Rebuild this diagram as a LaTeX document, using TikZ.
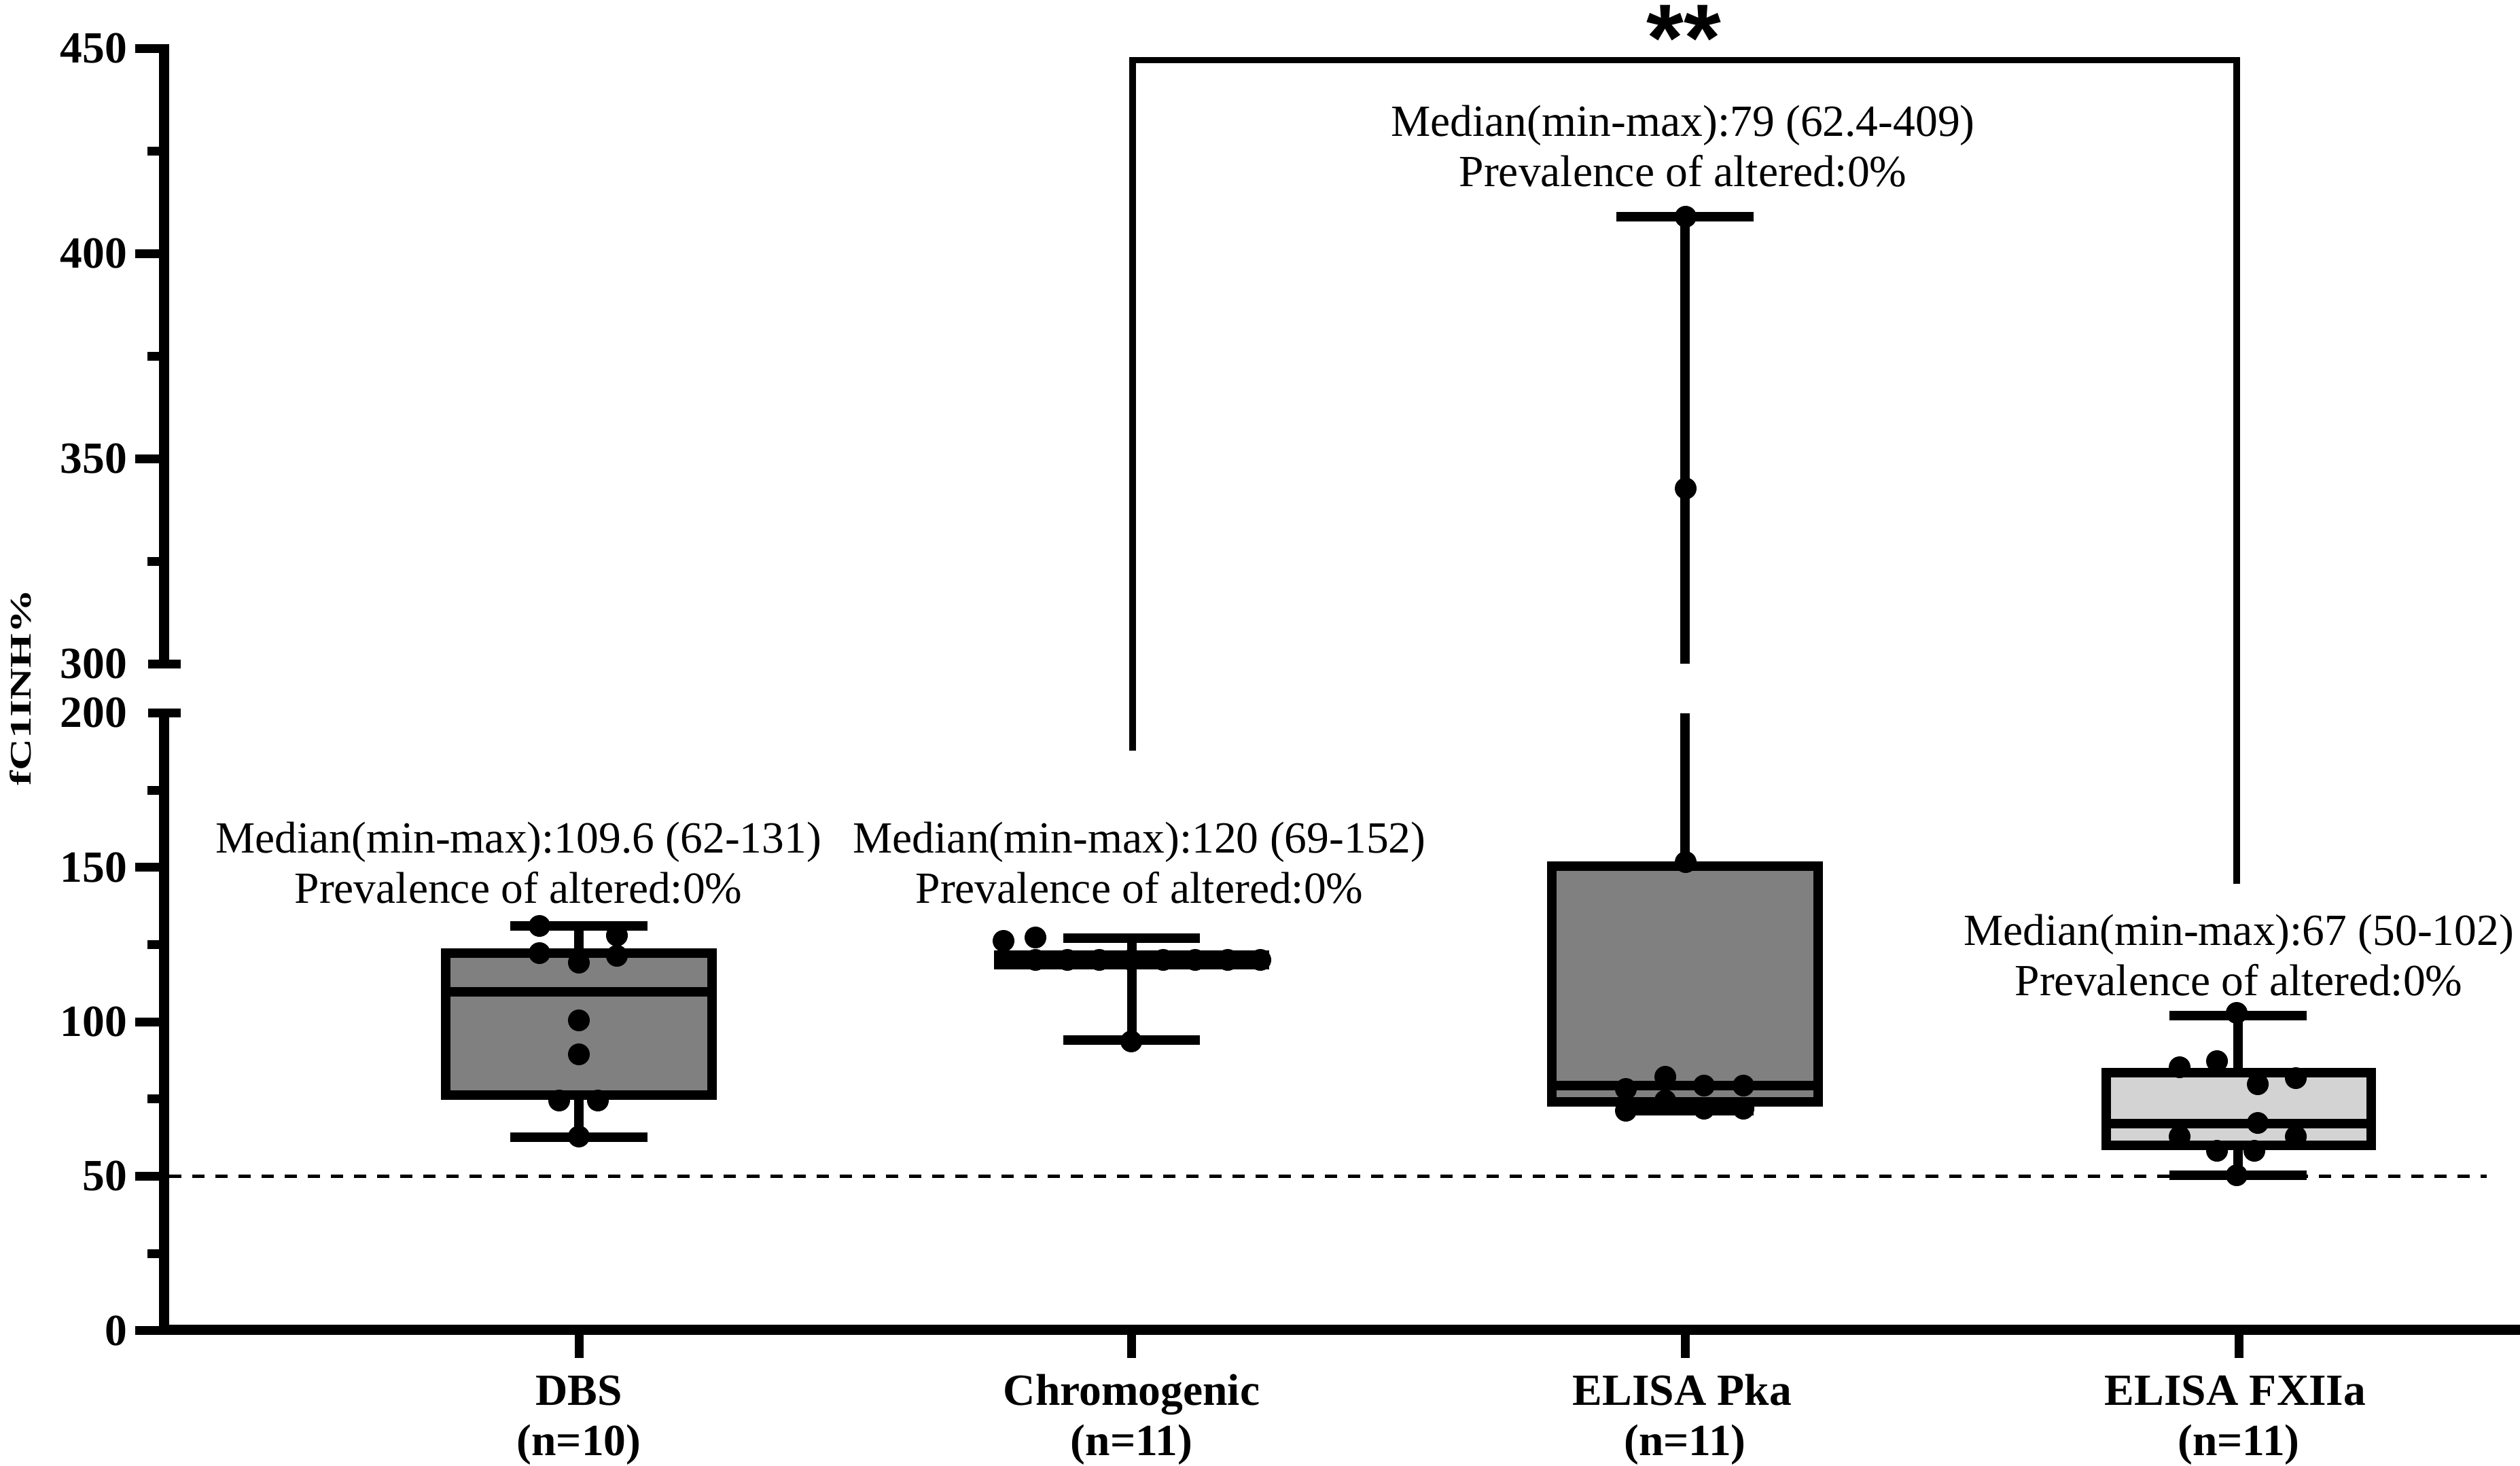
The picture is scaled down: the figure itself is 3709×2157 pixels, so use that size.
\documentclass[tikz,border=0pt]{standalone}
\usepackage{fontspec}
\setmainfont{Liberation Serif}
\newfontfamily\starfont{Liberation Sans}
\definecolor{boxgray}{RGB}{128,128,128}
\definecolor{boxlight}{RGB}{211,211,211}
\begin{document}
\begin{tikzpicture}[x=0.01cm,y=-0.01cm,
  every node/.style={inner sep=0pt, outer sep=0pt},
  lab/.style={font=\fontsize{18.64pt}{22pt}\selectfont},
  blab/.style={font=\fontsize{18.64pt}{22pt}\selectfont\bfseries},
  boxline/.style={line width=0.14cm, line join=miter},
  axisline/.style={line width=0.15cm},
  tickline/.style={line width=0.13cm},
  bracketline/.style={line width=0.095cm, line join=miter},
  refline/.style={line width=0.05cm, dash pattern=on 0.18cm off 0.16cm},
  dotfill/.style={fill=black}
]
\useasboundingbox (0,0) rectangle (3709,2157);

% ---------- y axis ----------
\draw[axisline] (241.5,64.5) -- (241.5,977);
\draw[tickline] (218,977) -- (266,977);
\draw[axisline] (241.5,1049.5) -- (241.5,1965);
\draw[tickline] (218,1049.5) -- (266,1049.5);
\foreach \yy in {71,373,675,1276.75,1504,1731.25,1958.5}
  \draw[tickline] (199,\yy) -- (241.5,\yy);
\foreach \yy in {222,524,826,1163,1390.4,1617.6,1845}
  \draw[tickline] (217,\yy) -- (241.5,\yy);

\node[blab, anchor=east] (t450) at (187,71) {450};
\node[blab, anchor=east] (t400) at (187,373) {400};
\node[blab, anchor=east] (t350) at (187,675) {350};
\node[blab, anchor=east] (t300) at (187,977) {300};
\node[blab, anchor=east] (t200) at (187,1049.5) {200};
\node[blab, anchor=east] (t150) at (187,1276.75) {150};
\node[blab, anchor=east] (t100) at (187,1504) {100};
\node[blab, anchor=east] (t50) at (187,1731.25) {50};
\node[blab, anchor=east] (t0) at (187,1958.5) {0};

\node[rotate=90, font=\fontsize{12.5pt}{14pt}\selectfont\bfseries] (ylab) at (30,1012) {\scalebox{1.48}[1]{fC1INH\%}};

% ---------- x axis ----------
\draw[axisline] (234,1957) -- (3709,1957);
\foreach \xx in {852,1665.5,2480,3295}
  \draw[tickline] (\xx,1957) -- (\xx,1999);

\node[blab, anchor=base] (c1a) at (852,2068) {DBS};
\node[blab, anchor=base] (c1b) at (852,2142) {(n=10)};
\node[blab, anchor=base] (c2a) at (1665.5,2068) {Chromogenic};
\node[blab, anchor=base] (c2b) at (1665.5,2142) {(n=11)};
\node[blab, anchor=base] (c3a) at (2476,2068) {ELISA Pka};
\node[blab, anchor=base] (c3b) at (2480,2142) {(n=11)};
\node[blab, anchor=base] (c4a) at (3290,2068) {ELISA FXIIa};
\node[blab, anchor=base] (c4b) at (3295,2142) {(n=11)};

% ---------- reference line ----------
\draw[refline] (249,1731.25) -- (3660,1731.25);

% ---------- DBS ----------
\draw[boxline] (852,1363) -- (852,1403);
\draw[boxline] (852,1612) -- (852,1674);
\draw[boxline] (751,1363) -- (953,1363);
\draw[boxline] (751,1674) -- (953,1674);
\draw[boxline, fill=boxgray] (656,1403) rectangle (1048,1612);
\draw[boxline] (656,1460) -- (1048,1460);
\foreach \px/\py in {794/1363,908/1377,794/1403,908/1407,852/1417,852/1502,852/1552,823/1620,880/1620,852/1673}
  \fill[dotfill] (\px,\py) circle[radius=0.16cm];

% ---------- Chromogenic ----------
\draw[boxline] (1665.5,1381) -- (1665.5,1406);
\draw[boxline] (1665.5,1420) -- (1665.5,1530.5);
\draw[boxline] (1565,1381) -- (1766,1381);
\draw[boxline] (1565,1530.5) -- (1766,1530.5);
\draw[boxline, fill=boxgray] (1470,1406) rectangle (1861,1420);
\draw[boxline] (1470,1413) -- (1861,1413);
\foreach \px/\py in {1477/1385,1524/1380,1524/1413,1571/1413,1618/1413,1665/1413,1712/1413,1759/1413,1807/1413,1855/1413,1665/1533}
  \fill[dotfill] (\px,\py) circle[radius=0.16cm];

% ---------- ELISA Pka ----------
\draw[boxline] (2480,319) -- (2480,977);
\draw[boxline] (2480,1049.5) -- (2480,1274.6);
\draw[boxline] (2480,1622) -- (2480,1635);
\draw[boxline] (2379,319) -- (2581,319);
\draw[boxline] (2379,1635) -- (2581,1635);
\draw[boxline, fill=boxgray] (2284,1274.6) rectangle (2676,1622);
\draw[boxline] (2284,1598) -- (2676,1598);
\foreach \px/\py in {2481/319,2481/719,2481/1269,2393/1603,2451/1585,2508/1598,2566/1598,2393/1635,2451/1620,2508/1632,2566/1632}
  \fill[dotfill] (\px,\py) circle[radius=0.16cm];

% ---------- ELISA FXIIa ----------
\draw[boxline] (3294,1494.6) -- (3294,1579);
\draw[boxline] (3294,1686) -- (3294,1730);
\draw[boxline] (3193,1494.6) -- (3395,1494.6);
\draw[boxline] (3193,1730) -- (3395,1730);
\draw[boxline, fill=boxlight] (3100,1579) rectangle (3490,1686);
\draw[boxline] (3100,1653.5) -- (3490,1653.5);
\foreach \px/\py in {3292/1491,3208/1571,3263/1562,3323/1596,3379/1587,3323/1653,3208/1673,3379/1673,3263/1694,3318/1694,3292/1730}
  \fill[dotfill] (\px,\py) circle[radius=0.16cm];

% ---------- annotations ----------
\node[lab, anchor=base] (a1a) at (763,1255) {Median(min-max):109.6 (62-131)};
\node[lab, anchor=base] (a1b) at (763,1329) {Prevalence of altered:0\%};
\node[lab, anchor=base] (a2a) at (1677,1255) {Median(min-max):120 (69-152)};
\node[lab, anchor=base] (a2b) at (1677,1329) {Prevalence of altered:0\%};
\node[lab, anchor=base] (a3a) at (2477,200) {Median(min-max):79 (62.4-409)};
\node[lab, anchor=base] (a3b) at (2477,274) {Prevalence of altered:0\%};
\node[lab, anchor=base] (a4a) at (3295,1391) {Median(min-max):67 (50-102)};
\node[lab, anchor=base] (a4b) at (3295,1465) {Prevalence of altered:0\%};

% ---------- significance bracket ----------
\coordinate (brL) at (1667,1105);
\coordinate (brR) at (3292,1301);
\draw[bracketline] (brL) -- (1667,88.5) -- (3292,88.5) -- (brR);
\node[font=\starfont\bfseries\fontsize{40pt}{46pt}\selectfont, anchor=base] (sig) at (2478,104) {**};
\end{tikzpicture}
\end{document}
